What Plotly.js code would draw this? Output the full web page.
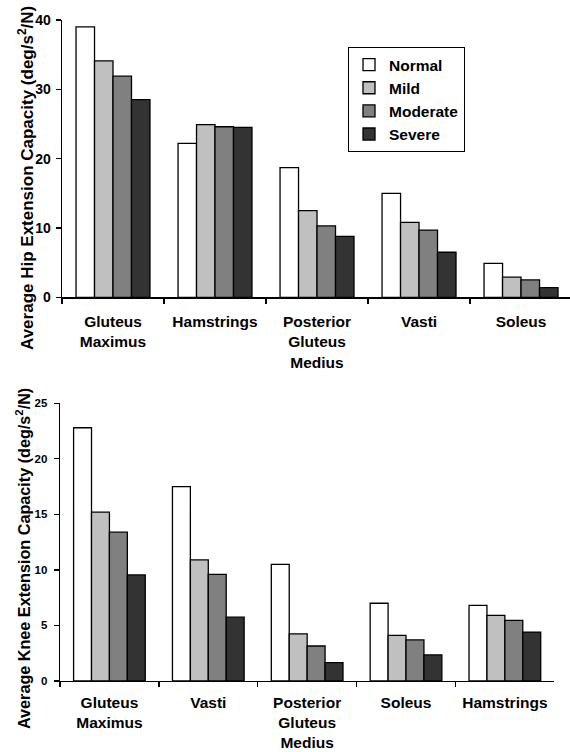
<!DOCTYPE html>
<html>
<head>
<meta charset="utf-8">
<script src="https://cdn.plot.ly/plotly-3.0.1.min.js"></script>
<style>
html,body{margin:0;padding:0;background:#fff;}
#chart{width:570px;height:752px;}
</style>
</head>
<body>
<div id="chart"></div>
<script>
// ---- Data ----
var severityLevels = ["Normal", "Mild", "Moderate", "Severe"];
var severityColors = ["#ffffff", "#c0c0c0", "#808080", "#333333"];

var hipMuscles = ["Gluteus<br>Maximus", "Hamstrings", "Posterior<br>Gluteus<br>Medius", "Vasti", "Soleus"];
var hipNormal   = [39.0, 22.2, 18.7, 15.0, 4.9];
var hipMild     = [34.1, 24.9, 12.5, 10.8, 2.9];
var hipModerate = [31.9, 24.6, 10.3, 9.7, 2.5];
var hipSevere   = [28.5, 24.5, 8.8, 6.5, 1.4];

var kneeMuscles = ["Gluteus<br>Maximus", "Vasti", "Posterior<br>Gluteus<br>Medius", "Soleus", "Hamstrings"];
var kneeNormal   = [22.8, 17.5, 10.5, 7.0, 6.8];
var kneeMild     = [15.2, 10.9, 4.25, 4.1, 5.9];
var kneeModerate = [13.4, 9.6, 3.15, 3.7, 5.45];
var kneeSevere   = [9.55, 5.75, 1.65, 2.35, 4.4];

var hipTitle = "Average Hip Extension Capacity (deg/s<sup>2</sup>/N)";
var kneeTitle = "Average Knee Extension Capacity (deg/s<sup>2</sup>/N)";

// ---- Build traces ----
var hipSeries = [hipNormal, hipMild, hipModerate, hipSevere];
var kneeSeries = [kneeNormal, kneeMild, kneeModerate, kneeSevere];
var traces = [];
severityLevels.forEach(function(name, i){
  traces.push({
    type: "bar", name: name, x: hipMuscles, y: hipSeries[i],
    xaxis: "x", yaxis: "y", legendgroup: name, showlegend: true,
    marker: {color: severityColors[i], line: {color: "#000", width: 1.3}},
    hoverinfo: "skip"
  });
});
severityLevels.forEach(function(name, i){
  traces.push({
    type: "bar", name: name, x: kneeMuscles, y: kneeSeries[i],
    xaxis: "x2", yaxis: "y2", legendgroup: name, showlegend: false,
    marker: {color: severityColors[i], line: {color: "#000", width: 1.3}},
    hoverinfo: "skip"
  });
});

var W = 570, H = 752;
function px(x){ return x / W; }
function py(y){ return 1 - y / H; }

var boldFont = {family: "Arial, 'Liberation Sans', sans-serif", color: "#000", weight: "bold"};
function f(size){ return Object.assign({}, boldFont, {size: size}); }

var axisCommon = {
  showgrid: false, zeroline: false, showline: true, linecolor: "#000", linewidth: 1.3,
  ticks: "outside", tickcolor: "#000", ticklen: 5, tickwidth: 1.3, fixedrange: true
};

var layout = {
  width: W, height: H,
  margin: {l: 0, r: 0, t: 0, b: 0, autoexpand: false},
  paper_bgcolor: "#fff", plot_bgcolor: "#fff",
  barmode: "group", bargap: 0.275, bargroupgap: 0,
  showlegend: true,
  legend: {
    x: px(348), y: py(47), xanchor: "left", yanchor: "top",
    bordercolor: "#000", borderwidth: 1, bgcolor: "#fff",
    font: f(15.5), itemwidth: 30, tracegroupgap: 0
  },
  xaxis: Object.assign({}, axisCommon, {
    domain: [px(62), 1], anchor: "y", type: "category",
    range: [-0.5, 4.48], tickson: "boundaries", tickfont: f(15.5),
    ticklabelstandoff: 10, automargin: false
  }),
  yaxis: Object.assign({}, axisCommon, {
    domain: [py(297.3), py(20)], anchor: "x",
    range: [0, 40], dtick: 10, tickfont: f(14), ticklabelstandoff: 2, automargin: false
  }),
  xaxis2: Object.assign({}, axisCommon, {
    domain: [px(60), px(554.3)], anchor: "y2", type: "category",
    range: [-0.5, 4.5], tickson: "boundaries", tickfont: f(15.5),
    ticklabelstandoff: 7, automargin: false
  }),
  yaxis2: Object.assign({}, axisCommon, {
    domain: [py(681), py(403.3)], anchor: "x2",
    range: [0, 25], dtick: 5, tickfont: f(11.5), ticklabelstandoff: 4, automargin: false
  }),
  annotations: [
    {text: hipTitle, xref: "paper", yref: "paper", x: px(26), y: py(178),
     xanchor: "center", yanchor: "middle", textangle: -90, showarrow: false, font: f(17)},
    {text: kneeTitle, xref: "paper", yref: "paper", x: px(23), y: py(559),
     xanchor: "center", yanchor: "middle", textangle: -90, showarrow: false, font: f(16.2)}
  ]
};

Plotly.newPlot("chart", traces, layout, {displayModeBar: false, staticPlot: true});
</script>
</body>
</html>
